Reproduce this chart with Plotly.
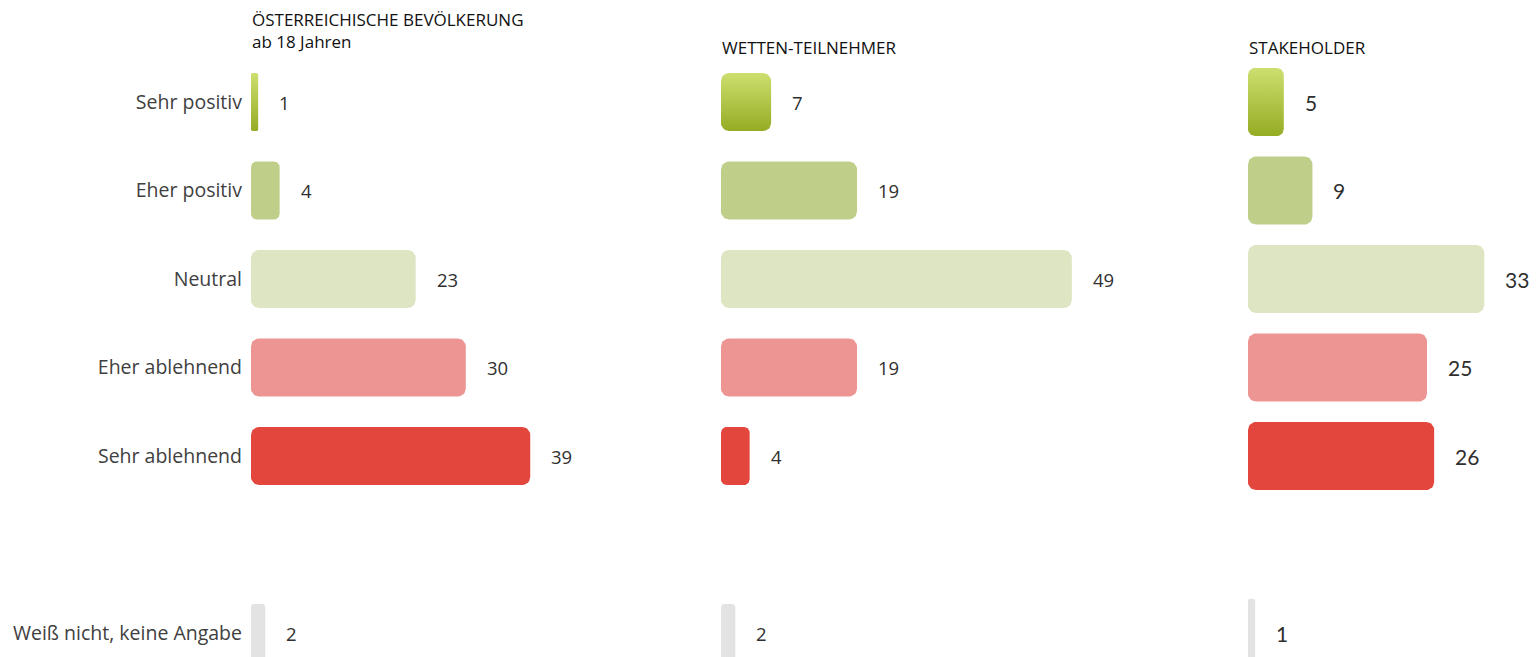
import numpy as np
import plotly.graph_objects as go

# ---------------- data ----------------
categories = ["Sehr positiv", "Eher positiv", "Neutral", "Eher ablehnend",
              "Sehr ablehnend", "Weiß nicht, keine Angabe"]
row_positions = [0, 1, 2, 3, 4, 6]
panel_titles = ["ÖSTERREICHISCHE BEVÖLKERUNG<br>ab 18 Jahren",
                "WETTEN-TEILNEHMER", "STAKEHOLDER"]
bevoelkerung = [1, 4, 23, 30, 39, 2]
wetten_teilnehmer = [7, 19, 49, 19, 4, 2]
stakeholder = [5, 9, 33, 25, 26, 1]
panels = [bevoelkerung, wetten_teilnehmer, stakeholder]

# ---------------- style ----------------
bar_colors = [None, "#bfcf8a", "#dde5c3", "#ec9592", "#e2463c", "#e3e3e3"]
gradient_colors = ["#95ac24", "#cddf6f"]
OFF = 8                      # page body margin
W, H = 1539 - OFF, 657 - OFF
PX_PER_UNIT = 7.16
PX_PER_ROW = 88.5
ROW0_PX = 102 - OFF
panel_px = [(251 - OFF, 700 - OFF), (721 - OFF, 1230 - OFF), (1248 - OFF, 1539 - OFF)]
title_top_px = [7 - OFF, 35 - OFF, 35 - OFF]
bar_widths = [0.655, 0.655, 0.77]
value_fonts = [dict(family="Open Sans", size=18.5, color="#2f2f2f"),
               dict(family="Open Sans", size=18.5, color="#2f2f2f"),
               dict(family="Lato", size=21, color="#2f2f2f")]
RADIUS_PX = 8

y_range = [(H - ROW0_PX) / PX_PER_ROW, -ROW0_PX / PX_PER_ROW]


def rounded_rect(x0, x1, y0, y1, r_px):
    r = min(r_px, 0.2 * (x1 - x0) * PX_PER_UNIT)
    rx, ry = r / PX_PER_UNIT, r / PX_PER_ROW
    xs, ys = [], []
    corners = [(x1 - rx, y0 + ry, -np.pi / 2, 0),
               (x1 - rx, y1 - ry, 0, np.pi / 2),
               (x0 + rx, y1 - ry, np.pi / 2, np.pi),
               (x0 + rx, y0 + ry, np.pi, 1.5 * np.pi)]
    for cx, cy, a0, a1 in corners:
        t = np.linspace(a0, a1, 10)
        xs += list(cx + rx * np.cos(t))
        ys += list(cy + ry * np.sin(t))
    xs.append(xs[0]); ys.append(ys[0])
    return xs, ys


fig = go.Figure()
annotations = []

for i, values in enumerate(panels):
    xa = "x" if i == 0 else f"x{i+1}"
    ya = "y" if i == 0 else f"y{i+1}"
    bw = bar_widths[i]
    for j, (v, pos) in enumerate(zip(values, row_positions)):
        y0, y1 = pos - bw / 2, pos + bw / 2
        xs, ys = rounded_rect(0, v, y0, y1, RADIUS_PX)
        trace = dict(x=xs, y=ys, xaxis=xa, yaxis=ya, mode="lines",
                     line=dict(width=0), fill="toself",
                     hoverinfo="skip", showlegend=False)
        if j == 0:
            trace["fillgradient"] = dict(
                type="vertical",
                colorscale=[[0, gradient_colors[0]], [1, gradient_colors[1]]],
                start=y1, stop=y0)
        else:
            trace["fillcolor"] = bar_colors[j]
        fig.add_trace(go.Scatter(**trace))
        annotations.append(dict(
            x=v, y=pos, xref=xa, yref=ya, text=str(v), showarrow=False,
            xanchor="left", yanchor="middle", xshift=19, font=value_fonts[i]))
    annotations.append(dict(
        x=0, xref=f"{xa} domain", y=1 - title_top_px[i] / H, yref="paper",
        text=panel_titles[i], showarrow=False, xanchor="left", yanchor="top",
        align="left", borderpad=0,
        font=dict(family="Open Sans", size=17, color="#111111")))

layout = dict(
    width=W, height=H, margin=dict(l=0, r=0, t=0, b=0),
    paper_bgcolor="white", plot_bgcolor="white",
    annotations=annotations,
)
for i, (a, b) in enumerate(panel_px):
    xkey = "xaxis" if i == 0 else f"xaxis{i+1}"
    ykey = "yaxis" if i == 0 else f"yaxis{i+1}"
    anchor_y = "y" if i == 0 else f"y{i+1}"
    anchor_x = "x" if i == 0 else f"x{i+1}"
    layout[xkey] = dict(domain=[a / W, b / W], range=[0, (b - a) / PX_PER_UNIT],
                        anchor=anchor_y, visible=False, fixedrange=True)
    layout[ykey] = dict(domain=[0, 1], range=y_range, anchor=anchor_x,
                        showgrid=False, zeroline=False, showline=False,
                        tickvals=row_positions, ticktext=categories,
                        showticklabels=(i == 0), ticks="",
                        ticklabelstandoff=8,
                        tickfont=dict(family="Open Sans", size=19.5, color="#404040"),
                        fixedrange=True)
fig.update_layout(**layout)
fig.write_html("out.html")
